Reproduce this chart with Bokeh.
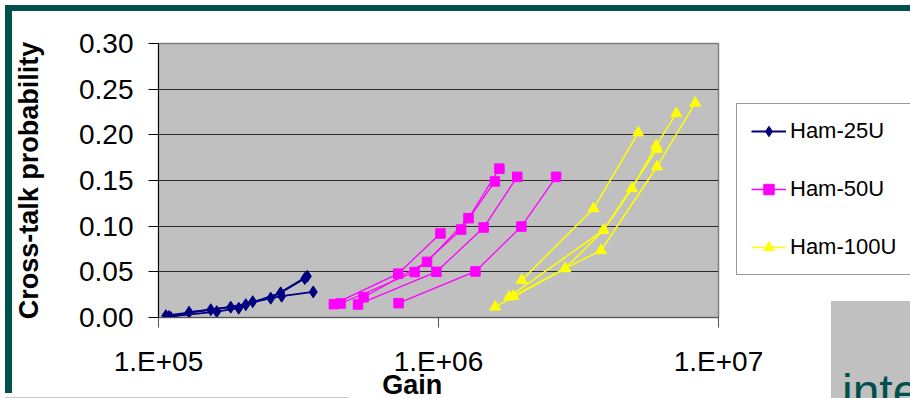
from bokeh.plotting import figure
from bokeh.models import (FixedTicker, CustomJSTickFormatter, NumeralTickFormatter,
                          Legend, LegendItem, Range1d, Div)
from bokeh.embed import file_html
from bokeh.resources import INLINE

# ---------------- data ----------------
ham25_gain = [
    [1.062e5, 1.537e5, 2.05e5, 2.73e5, 3.33e5],
    [1.106e5, 1.286e5, 1.811e5, 2.516e5, 3.40e5],
    [1.088e5, 1.614e5, 1.934e5, 2.17e5, 2.754e5, 3.57e5],
]
ham25_xt = [
    [0.002, 0.0085, 0.014, 0.027, 0.0427],
    [0.000, 0.0058, 0.0113, 0.0211, 0.0452],
    [0.001, 0.0064, 0.0102, 0.0173, 0.0233, 0.028],
]

ham50_gain = [
    [4.23e5, 7.18e5, 1.016e6],
    [4.47e5, 8.22e5, 1.205e6, 1.59e6],
    [5.40e5, 9.10e5, 1.28e6, 1.65e6],
    [5.16e5, 9.83e5, 1.45e6, 1.91e6],
    [7.20e5, 1.355e6, 1.977e6, 2.63e6],
]
ham50_xt = [
    [0.0146, 0.048, 0.092],
    [0.0153, 0.0498, 0.0963, 0.149],
    [0.0222, 0.0609, 0.1087, 0.163],
    [0.0143, 0.050, 0.0985, 0.154],
    [0.0157, 0.0504, 0.0996, 0.154],
]

ham100_gain = [
    [1.983e6, 3.58e6, 5.17e6],
    [1.594e6, 2.835e6, 3.805e6, 6.03e6, 8.26e6],
    [1.788e6, 3.885e6, 4.91e6, 5.99e6, 7.07e6],
    [1.851e6, 2.835e6, 3.885e6, 6.03e6],
]
ham100_xt = [
    [0.0408, 0.1193, 0.2023],
    [0.0116, 0.0537, 0.0734, 0.1651, 0.2349],
    [0.0226, 0.0956, 0.1412, 0.1881, 0.2234],
    [0.0233, 0.0537, 0.0956, 0.1843],
]

series_names = ["Ham-25U", "Ham-50U", "Ham-100U"]
x_tick_values = [1e5, 1e6, 1e7]
y_tick_values = [0.00, 0.05, 0.10, 0.15, 0.20, 0.25, 0.30]
x_title = "Gain"
y_title = "Cross-talk probability"
corner_text = "inte"

FONT = "Liberation Sans"
TEAL = "#00504E"

# ---------------- figure ----------------
p = figure(width=910, height=398, frame_width=560, frame_height=274,
           x_axis_type="log",
           x_range=Range1d(1e5, 1e7), y_range=Range1d(0, 0.30),
           output_backend="svg", toolbar_location=None,
           min_border_left=158, min_border_right=192,
           min_border_top=43, min_border_bottom=81)

p.background_fill_color = "#C0C0C0"
p.border_fill_color = "white"
p.outline_line_color = "#808080"
p.outline_line_width = 1.5

p.xgrid.visible = False
p.ygrid.ticker = FixedTicker(ticks=y_tick_values)
p.ygrid.grid_line_color = "#2a2a2a"
p.ygrid.grid_line_width = 1

p.xaxis.ticker = FixedTicker(ticks=x_tick_values, minor_ticks=[])
p.xaxis.formatter = CustomJSTickFormatter(
    code="const e = Math.round(Math.log10(tick)); return '1.E+' + (e < 10 ? '0' + e : '' + e);")
p.yaxis.ticker = FixedTicker(ticks=y_tick_values, minor_ticks=[])
p.yaxis.formatter = NumeralTickFormatter(format="0.00")

for ax in (p.xaxis[0], p.yaxis[0]):
    ax.major_label_text_font = FONT
    ax.major_label_text_font_size = "28px"
    ax.major_label_text_color = "black"
    ax.major_tick_in = 0
    ax.major_tick_out = 10
    ax.minor_tick_line_color = None
    ax.major_tick_line_color = "black"
p.yaxis.axis_line_color = "black"
p.xaxis.axis_line_color = "#555555"
p.xaxis.major_tick_line_color = "#555555"
p.yaxis.major_label_standoff = 15
p.xaxis.major_label_standoff = 18

p.yaxis.axis_label = y_title
p.yaxis.axis_label_text_font = FONT
p.yaxis.axis_label_text_font_size = "27px"
p.yaxis.axis_label_text_font_style = "bold"
p.yaxis.axis_label_text_color = "black"
p.yaxis.axis_label_standoff = 32

# x title: trailing no-break spaces move the centred text left, as in the source
p.xaxis.axis_label = x_title + "\u00a0" * 7
p.xaxis.axis_label_text_font = FONT
p.xaxis.axis_label_text_font_size = "27px"
p.xaxis.axis_label_text_font_style = "bold"
p.xaxis.axis_label_text_color = "black"
p.xaxis.axis_label_standoff = -10

# ---------------- series ----------------
def flat(lists):
    return [v for sub in lists for v in sub]

l25 = p.multi_line(xs=ham25_gain, ys=ham25_xt, line_color="#000080", line_width=1.8)
s25 = p.scatter(flat(ham25_gain), flat(ham25_xt), marker="diamond",
                size=12, fill_color="#000080", line_color="#000080")
l50 = p.multi_line(xs=ham50_gain, ys=ham50_xt, line_color="#FF00FF", line_width=1.3)
s50 = p.scatter(flat(ham50_gain), flat(ham50_xt), marker="square",
                size=9.5, fill_color="#FF00FF", line_color="#FF00FF")
l100 = p.multi_line(xs=ham100_gain, ys=ham100_xt, line_color="#FFFF00", line_width=1.5)
s100 = p.scatter(flat(ham100_gain), flat(ham100_xt), marker="triangle",
                 size=11, fill_color="#FFFF00", line_color="#FFFF00")

legend = Legend(items=[
    LegendItem(label=series_names[0], renderers=[l25, s25]),
    LegendItem(label=series_names[1], renderers=[l50, s50]),
    LegendItem(label=series_names[2], renderers=[l100, s100]),
], location=(18, 42))
legend.label_text_font = FONT
legend.label_text_font_size = "22px"
legend.label_text_color = "black"
legend.glyph_width = 35
legend.glyph_height = 26
legend.label_height = 26
legend.label_standoff = 4
legend.spacing = 32
legend.padding = 14
legend.margin = 0
legend.border_line_color = "#333333"
legend.border_line_width = 1
legend.background_fill_color = "white"
legend.background_fill_alpha = 1
p.add_layout(legend, "right")

# ---------------- slide decoration overlay (teal frame, grey box, cut word) ----------------
deco = Div(
    text=('<div style="position:absolute;left:837px;top:359px;'
          "font-family:'Liberation Sans';font-size:48px;line-height:normal;"
          f'color:{TEAL};white-space:nowrap;">{corner_text}</div>'),
    width=910, height=398,
    styles={
        "position": "absolute", "left": "0px", "top": "0px",
        "overflow": "hidden", "pointer-events": "none",
        "background-image": (f"linear-gradient({TEAL},{TEAL}), linear-gradient({TEAL},{TEAL}), "
                             "linear-gradient(#C0C0C0,#C0C0C0), linear-gradient(#C8C8C8,#C8C8C8)"),
        "background-size": "910px 6px, 7px 388px, 84px 102px, 343px 6px",
        "background-position": "0px 0px, 0px 0px, 826px 296px, 0px 392px",
        "background-repeat": "no-repeat",
    })

open("out.html", "w").write(file_html([p, deco], INLINE))
